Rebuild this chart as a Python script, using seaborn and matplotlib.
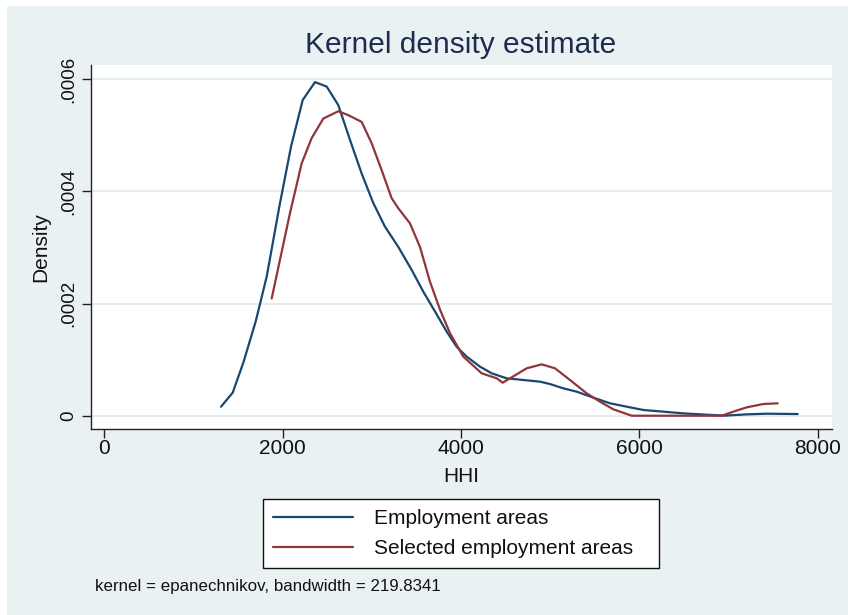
import matplotlib
matplotlib.use("Agg")
import matplotlib.pyplot as plt
from matplotlib import font_manager
from matplotlib.patches import Rectangle
from matplotlib.lines import Line2D
import seaborn as sns
import pandas as pd

# ---- data ----
emp_x = [1309, 1440, 1559, 1697, 1821, 1963, 2094, 2225, 2363, 2494, 2624, 2755, 2886, 3017,
         3148, 3297, 3447, 3578, 3708, 3839, 3951, 4064, 4213, 4344, 4512, 4699, 4886, 4998,
         5148, 5297, 5484, 5671, 5858, 6045, 6269, 6493, 6755, 6960, 7203, 7428, 7775]
emp_y = [0.0000161, 0.0000411, 0.0000946, 0.0001677, 0.000248, 0.000373, 0.000480, 0.000563,
         0.000595, 0.000587, 0.000554, 0.000492, 0.000432, 0.000379, 0.000337, 0.000301,
         0.000260, 0.000221, 0.000186, 0.000150, 0.000123, 0.0001053, 0.0000875, 0.0000756,
         0.0000667, 0.0000637, 0.0000607, 0.0000565, 0.0000488, 0.0000429, 0.0000322,
         0.0000221, 0.0000161, 0.0000102, 0.0000072, 0.0000042, 0.0000018, 0.0000001,
         0.0000024, 0.0000036, 0.0000030]
sel_x = [1877, 1970, 2082, 2213, 2325, 2456, 2624, 2737, 2811, 2886, 2998, 3110, 3222, 3297,
         3428, 3540, 3652, 3765, 3877, 4026, 4232, 4400, 4467, 4550, 4736, 4905, 5054, 5222,
         5409, 5559, 5708, 5914, 6306, 6923, 7054, 7203, 7390, 7551]
sel_y = [0.000209, 0.000278, 0.000361, 0.000450, 0.000495, 0.000530, 0.000543, 0.000536,
         0.000530, 0.000524, 0.000486, 0.000438, 0.000388, 0.000370, 0.000343, 0.000301,
         0.000239, 0.000189, 0.000147, 0.0001053, 0.0000756, 0.0000667, 0.0000589, 0.0000667,
         0.0000845, 0.0000916, 0.0000845, 0.0000637, 0.0000399, 0.0000250, 0.0000114, 0.0,
         0.0, 0.0, 0.0000072, 0.0000149, 0.0000209, 0.0000221]
series_names = ["Employment areas", "Selected employment areas"]
x_ticks = [0, 2000, 4000, 6000, 8000]
y_ticks = [0, 0.0002, 0.0004, 0.0006]
y_ticklabels = ["0", ".0002", ".0004", ".0006"]

BG = "#E9F1F3"
GRID = "#E4EDF0"
NAVY = "#1A476F"
MAROON = "#90353B"

sns.set_theme(style="white")
plt.rcParams["font.family"] = ["Liberation Sans", "DejaVu Sans"]

df = pd.DataFrame({
    "HHI": emp_x + sel_x,
    "Density": emp_y + sel_y,
    "series": [series_names[0]] * len(emp_x) + [series_names[1]] * len(sel_x),
})

W, H = 848, 615
fig = plt.figure(figsize=(W / 100, H / 100), dpi=100, facecolor="white")
fig.patches.append(Rectangle((7 / W, 0), 1 - 7 / W, 1 - 6 / H, transform=fig.transFigure,
                             facecolor=BG, edgecolor="none", zorder=-10))

ax_l, ax_r, ax_t, ax_b = 91, 832, 65, 429
ax = fig.add_axes([ax_l / W, 1 - ax_b / H, (ax_r - ax_l) / W, (ax_b - ax_t) / H])
ax.set_facecolor("white")

sns.lineplot(data=df, x="HHI", y="Density", hue="series", hue_order=series_names,
             palette=[NAVY, MAROON], sort=False, estimator=None, linewidth=1.6,
             legend=False, ax=ax)

ax.set_xlim(-149, 8160)
ax.set_ylim(-0.0000237, 0.0006255)
ax.set_xticks(x_ticks)
ax.set_xticklabels([str(t) for t in x_ticks])
ax.set_yticks(y_ticks)
ax.set_yticklabels(y_ticklabels)

for s in ["top", "right"]:
    ax.spines[s].set_visible(False)
for s in ["left", "bottom"]:
    ax.spines[s].set_color("#222222")
    ax.spines[s].set_linewidth(1.0)

ax.yaxis.grid(True, color=GRID, linewidth=1.6)
ax.xaxis.grid(False)
ax.set_axisbelow(True)

ax.tick_params(axis="both", which="major", direction="out", length=6.5, width=1.0,
               color="#222222", labelcolor="#111111", labelsize=15)
ax.tick_params(axis="x", pad=1, bottom=True)
ax.tick_params(axis="y", pad=3.5, left=True, labelsize=13.5)
for lab in ax.get_yticklabels():
    lab.set_rotation(90)
    lab.set_va("center")
    lab.set_ha("right")

ax.set_xlabel("HHI", fontsize=15, color="#111111", va="baseline")
ax.xaxis.set_label_coords(0.5, -(481.7 - ax_b) / (ax_b - ax_t))
ax.set_ylabel("Density", fontsize=15, color="#111111", va="center")
ax.yaxis.set_label_coords((40.5 - ax_l) / (ax_r - ax_l), 0.5)

fig.text(461 / W, 1 - 53.3 / H, "Kernel density estimate", ha="center", va="baseline",
         fontsize=21.5, color="#1E2C4F")

handles = [Line2D([0], [0], color=NAVY, lw=1.6), Line2D([0], [0], color=MAROON, lw=1.6)]
leg = fig.legend(handles, series_names, loc="upper left", mode="expand",
                 bbox_to_anchor=(263 / W, 1 - 568 / H, 396 / W, 69 / H),
                 bbox_transform=fig.transFigure,
                 fontsize=15, frameon=True, fancybox=False, framealpha=1,
                 edgecolor="#111111", facecolor="white", handlelength=3.85,
                 handletextpad=1.0, borderpad=0.47, labelspacing=0.54,
                 borderaxespad=0)
leg.get_frame().set_linewidth(1.0)
for t in leg.get_texts():
    t.set_color("#111111")

fig.text(95 / W, 1 - 591 / H, "kernel = epanechnikov, bandwidth = 219.8341", ha="left",
         va="baseline", fontsize=12.2, color="#111111")

fig.savefig("out.png", dpi=100, facecolor=fig.get_facecolor())
